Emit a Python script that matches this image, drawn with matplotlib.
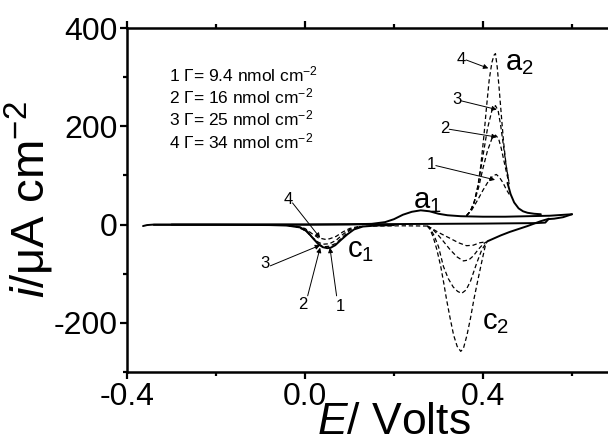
import matplotlib
matplotlib.use("Agg")
import matplotlib.pyplot as plt
from matplotlib.ticker import MultipleLocator

plt.rcParams['font.family'] = ['Liberation Sans', 'DejaVu Sans']
plt.rcParams['mathtext.fontset'] = 'custom'
plt.rcParams['mathtext.rm'] = 'Liberation Sans'
plt.rcParams['mathtext.it'] = 'Liberation Sans:italic'
plt.rcParams['axes.unicode_minus'] = False

# ---- data (E in V, i in uA cm^-2) ----
# solid: forward scan with a1 and return to tip
fwd_E = [-0.364, -0.355, -0.34, -0.2, 0.0, 0.1, 0.15, 0.18, 0.20, 0.22, 0.24, 0.26, 0.28, 0.30, 0.32, 0.35, 0.40, 0.45, 0.50, 0.55, 0.60]
fwd_i = [-3, -1, 0, 0, 0, 0.5, 1.5, 5, 11, 20, 26, 29, 27, 22, 19, 17, 16, 16, 17, 18, 21]
# solid: long baseline line and connection near switching potential
base_E = [-0.30, 0.0, 0.2, 0.4, 0.52, 0.54, 0.548]
base_i = [0, 0, 1, 2, 3, 4, 12]
# solid: return scan from tip down to the c2 shoulder
ret_E = [0.60, 0.58, 0.56, 0.545, 0.53, 0.515, 0.50, 0.48, 0.46, 0.44, 0.425, 0.41]
ret_i = [21, 15, 12, 11, 7, 2, -3, -9, -15, -22, -28, -34]
# solid: tail of the a2 peaks
tail_E = [0.455, 0.462, 0.47, 0.48, 0.49, 0.50, 0.515, 0.53]
tail_i = [85, 62, 45, 33, 27, 24, 22, 21]
# solid: c1 peak (curve 1)
c1s_E = [0.20, 0.16, 0.13, 0.11, 0.095, 0.08, 0.068, 0.058, 0.05, 0.04, 0.03, 0.018, 0.005, -0.01, -0.04, -0.08, -0.2, -0.34]
c1s_i = [-1, -2, -4, -10, -20, -32, -42, -47, -48, -46, -40, -28, -14, -6, -2, -1, -0.5, -0.5]

# dashed a2 peaks, curves 1-4
a2_E1 = [0.363, 0.375, 0.388, 0.400, 0.412, 0.422, 0.430, 0.437, 0.445, 0.452, 0.460]
a2_i1 = [18, 30, 50, 70, 88, 99, 102, 96, 85, 72, 60]
a2_E2 = [0.363, 0.372, 0.380, 0.390, 0.400, 0.410, 0.420, 0.428, 0.435, 0.441, 0.447, 0.453, 0.459]
a2_i2 = [18, 28, 45, 75, 115, 150, 175, 182, 175, 155, 130, 105, 82]
a2_E3 = [0.363, 0.372, 0.380, 0.390, 0.400, 0.410, 0.420, 0.428, 0.434, 0.440, 0.446, 0.452, 0.458]
a2_i3 = [18, 28, 45, 85, 140, 195, 232, 242, 232, 200, 160, 120, 88]
a2_E4 = [0.363, 0.372, 0.380, 0.388, 0.395, 0.402, 0.408, 0.414, 0.420, 0.425, 0.428, 0.432, 0.436, 0.441, 0.446, 0.452, 0.458]
a2_i4 = [18, 28, 45, 75, 120, 180, 240, 295, 330, 345, 348, 320, 280, 225, 170, 120, 88]

# dashed c2 peaks, curves 1-4
c2_E1 = [0.275, 0.285, 0.30, 0.315, 0.326, 0.345, 0.363, 0.378, 0.393, 0.408]
c2_i1 = [-3, -8, -16, -23, -28, -37, -43, -42, -37, -35]
c2_E2 = [0.275, 0.285, 0.296, 0.31, 0.326, 0.342, 0.356, 0.368, 0.378, 0.390, 0.401, 0.408]
c2_i2 = [-3, -8, -18, -33, -51, -66, -74, -72, -64, -50, -39, -35]
c2_E3 = [0.275, 0.281, 0.29, 0.30, 0.311, 0.322, 0.333, 0.343, 0.352, 0.362, 0.372, 0.386, 0.397, 0.408]
c2_i3 = [-3, -8, -22, -45, -85, -110, -127, -136, -140, -133, -115, -78, -52, -36]
c2_E4 = [0.275, 0.281, 0.288, 0.296, 0.305, 0.312, 0.318, 0.326, 0.334, 0.342, 0.350, 0.356, 0.364, 0.372, 0.380, 0.388, 0.395, 0.401, 0.406, 0.410]
c2_i4 = [-3, -10, -25, -50, -85, -120, -152, -190, -225, -248, -258, -252, -225, -190, -150, -115, -85, -60, -40, -34]

# dashed return line between c2 and c1
mid_E = [0.275, 0.22, 0.16, 0.12]
mid_i = [-3, -2.5, -3, -4]

# dashed c1 peaks, curves 2-4
c1_E2 = [0.12, 0.10, 0.085, 0.07, 0.055, 0.045, 0.035, 0.02, 0.005, -0.01, -0.04]
c1_i2 = [-5, -12, -25, -38, -44, -45, -42, -30, -15, -6, -2]
c1_E3 = [0.12, 0.10, 0.085, 0.07, 0.055, 0.04, 0.03, 0.015, 0.0, -0.02, -0.05]
c1_i3 = [-5, -10, -20, -32, -39, -40, -36, -25, -12, -4, -1]
c1_E4 = [0.12, 0.10, 0.085, 0.07, 0.055, 0.045, 0.03, 0.015, 0.0, -0.02, -0.05]
c1_i4 = [-4, -8, -15, -24, -29, -30, -27, -18, -8, -3, -1]

legend_lines = ["1 Γ= 9.4 nmol cm$^{\\mathregular{-2}}$",
                "2 Γ= 16 nmol cm$^{\\mathregular{-2}}$",
                "3 Γ= 25 nmol cm$^{\\mathregular{-2}}$",
                "4 Γ= 34 nmol cm$^{\\mathregular{-2}}$"]

# arrows: (label, text position, tail, head)
a2_arrows = [("4", (0.352, 335), (0.362, 335), (0.412, 318)),
             ("3", (0.341, 254), (0.350, 252), (0.431, 234)),
             ("2", (0.315, 196), (0.324, 194), (0.431, 178)),
             ("1", (0.285, 122), (0.294, 120), (0.427, 91))]
c1_arrows = [("4", (-0.037, 51), (-0.028, 44), (0.034, -27)),
             ("3", (-0.090, -80), (-0.078, -84), (0.034, -42)),
             ("2", (-0.004, -162), (0.006, -145), (0.034, -47)),
             ("1", (0.080, -166), (0.071, -145), (0.056, -47))]

# ---- figure ----
# the original axes run to E = 0.8; the picture is cropped at about 0.68
fig = plt.figure(figsize=(6.08, 4.46), dpi=100)
x_lo, x_hi = -0.4, 0.8
px_per_V = 445.0
ax = fig.add_axes([127/608, 1-372/446, (x_hi - x_lo) * px_per_V / 608, (372-28)/446])

sk = dict(color='black', lw=1.4, solid_capstyle='round')
dk = dict(color='black', lw=0.9, dashes=(3.5, 2.2))
ax.plot(fwd_E, fwd_i, **sk)
ax.plot(base_E, base_i, **sk)
ax.plot(ret_E, ret_i, **sk)
ax.plot(tail_E, tail_i, **sk)
ax.plot(c1s_E, c1s_i, **sk)
for E, I in [(a2_E1, a2_i1), (a2_E2, a2_i2), (a2_E3, a2_i3), (a2_E4, a2_i4),
             (c2_E1, c2_i1), (c2_E2, c2_i2), (c2_E3, c2_i3), (c2_E4, c2_i4),
             (mid_E, mid_i), (c1_E2, c1_i2), (c1_E3, c1_i3), (c1_E4, c1_i4)]:
    ax.plot(E, I, **dk)

for lab, tp, tail, head in a2_arrows + c1_arrows:
    ax.annotate('', xy=head, xytext=tail,
                arrowprops=dict(arrowstyle='-|>', lw=0.7, color='black',
                                mutation_scale=7, shrinkA=0, shrinkB=0))
    ax.text(tp[0], tp[1], lab, fontsize=12, ha='center', va='center')

for k, s in enumerate(legend_lines):
    ax.text(-0.305, 305 - k * 45, s, fontsize=12.5, ha='left', va='center')

ax.text(0.243, 33, "a$_{\\mathregular{1}}$", fontsize=21, ha='left', va='baseline')
ax.text(0.449, 315, "a$_{\\mathregular{2}}$", fontsize=21, ha='left', va='baseline')
ax.text(0.094, -67, "c$_{\\mathregular{1}}$", fontsize=21, ha='left', va='baseline')
ax.text(0.397, -213, "c$_{\\mathregular{2}}$", fontsize=21, ha='left', va='baseline')

ax.set_xlim(x_lo, x_hi)
ax.set_ylim(-300, 400)
ax.xaxis.set_major_locator(MultipleLocator(0.4))
ax.xaxis.set_minor_locator(MultipleLocator(0.2))
ax.yaxis.set_major_locator(MultipleLocator(200))
ax.yaxis.set_minor_locator(MultipleLocator(100))
# the 0.8 label lies outside the cropped picture
ax.xaxis.set_major_formatter(plt.FuncFormatter(lambda v, p: f"{v:.1f}" if v < 0.7 else ""))

for s in ['left', 'bottom', 'top', 'right']:
    ax.spines[s].set_linewidth(1.8)
ax.tick_params(which='both', direction='out', top=True, right=True, width=1.6)
ax.tick_params(which='major', length=5, labelsize=23, pad=2)
ax.tick_params(which='minor', length=3)
ax.tick_params(axis='x', which='both', labeltop=False)

ax.set_xlabel("$\\mathit{E}$/ Volts", fontsize=32, labelpad=-7)
ax.set_ylabel("$\\mathit{i}$/μA cm$^{\\mathregular{-2}}$", fontsize=34, labelpad=-2)

fig.savefig("out.png", dpi=100)
